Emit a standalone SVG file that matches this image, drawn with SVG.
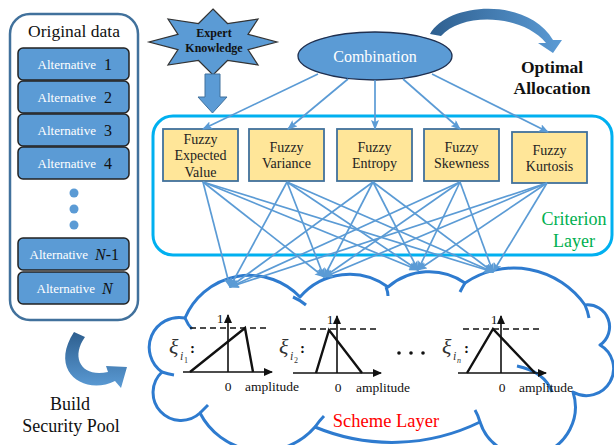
<svg xmlns="http://www.w3.org/2000/svg" width="614" height="445" viewBox="0 0 614 445">
<style>
.serif{font-family:"Liberation Serif","Times New Roman",serif}
.alt{fill:#5B9BD5;stroke:#222;stroke-width:1.5}
.altt{font-family:"Liberation Serif",serif;font-size:13px;fill:#fff}
.num{font-family:"Liberation Serif",serif;font-size:16px;fill:#111}
.fz{fill:#FFE699;stroke:#41719C;stroke-width:1.8}
.fzt{font-family:"Liberation Serif",serif;font-size:14px;fill:#222;text-anchor:middle}
.conn line{stroke:#5B9BD5;stroke-width:1.7;marker-end:url(#ah)}
.ax{stroke:#111;stroke-width:1.6;fill:none}
.tri{stroke:#111;stroke-width:2.4;fill:none;stroke-linejoin:miter}
.dash{stroke:#111;stroke-width:1.4;stroke-dasharray:6,4}
.lab{font-family:"Liberation Serif",serif;font-size:13.5px;fill:#111}
.hook{fill:none;stroke:#2E7BCF;stroke-width:3}
</style>
<defs>
<marker id="ah" markerUnits="userSpaceOnUse" markerWidth="10" markerHeight="8" refX="9" refY="4" orient="auto">
<path d="M0,0 L10,4 L0,8 L2,4 z" fill="#5B9BD5"/>
</marker>
<marker id="axh" markerUnits="userSpaceOnUse" markerWidth="9" markerHeight="8" refX="8" refY="4" orient="auto">
<path d="M0,0 L9,4 L0,8 z" fill="#111"/>
</marker>
<linearGradient id="g1" x1="0" y1="0" x2="1" y2="0">
<stop offset="0" stop-color="#2E5F8F"/>
<stop offset="1" stop-color="#5B9BD5"/>
</linearGradient>
<linearGradient id="g2" x1="0" y1="0" x2="0" y2="1">
<stop offset="0" stop-color="#2E5F8F"/>
<stop offset="1" stop-color="#5B9BD5"/>
</linearGradient>
</defs>

<g id="original-data">
<rect x="10" y="14" width="128" height="306" rx="20" fill="#fff" stroke="#41719C" stroke-width="2.5"/>
<text class="serif" x="74" y="37" font-size="17.5" text-anchor="middle" fill="#111">Original data</text>
<rect class="alt" x="18" y="48" width="111" height="32" rx="5"/>
<text class="altt" x="96" y="69" text-anchor="end">Alternative</text><text class="num" x="104" y="70">1</text>
<rect class="alt" x="18" y="81" width="111" height="32" rx="5"/>
<text class="altt" x="96" y="102" text-anchor="end">Alternative</text><text class="num" x="104" y="103">2</text>
<rect class="alt" x="18" y="114" width="111" height="32" rx="5"/>
<text class="altt" x="96" y="135" text-anchor="end">Alternative</text><text class="num" x="104" y="136">3</text>
<rect class="alt" x="18" y="147" width="111" height="32" rx="5"/>
<text class="altt" x="96" y="168" text-anchor="end">Alternative</text><text class="num" x="104" y="169">4</text>
<circle cx="74" cy="193" r="4.5" fill="#5B9BD5"/>
<circle cx="74" cy="209" r="4.5" fill="#5B9BD5"/>
<circle cx="74" cy="225" r="4.5" fill="#5B9BD5"/>
<rect class="alt" x="18" y="238" width="111" height="32" rx="5"/>
<text class="altt" x="88" y="259" text-anchor="end">Alternative</text><text class="num" x="95" y="260"><tspan font-style="italic">N</tspan>-1</text>
<rect class="alt" x="18" y="272" width="111" height="32" rx="5"/>
<text class="altt" x="95" y="293" text-anchor="end">Alternative</text><text class="num" x="102" y="294" font-style="italic">N</text>
</g>

<g id="expert-knowledge">
<polygon points="213,9 227.5,23.5 258,19 248,34.3 277,42 248,49.7 258,65 227.5,60.5 213,75 198.5,60.5 168,65 178,49.7 149,42 178,34.3 168,19 198.5,23.5" fill="#5B9BD5" stroke="#333" stroke-width="1.2"/>
<text class="serif" x="214" y="37" font-size="12" font-weight="bold" text-anchor="middle" fill="#111">Expert</text>
<text class="serif" x="214" y="52" font-size="12" font-weight="bold" text-anchor="middle" fill="#111">Knowledge</text>
<path d="M205,74 L220,74 L220,97 L227,97 L212.5,113 L198,97 L205,97 Z" fill="#5B9BD5" stroke="#41719C" stroke-width="1"/>
</g>

<g id="combination">
<ellipse cx="375" cy="56" rx="77" ry="24" fill="#5B9BD5" stroke="#1F2F4F" stroke-width="1.3"/>
<text class="serif" x="375" y="62" font-size="16" text-anchor="middle" fill="#fff">Combination</text>
</g>

<g id="optimal-allocation">
<path d="M430,34 C448,2 528,-3 553,40 L562,40 L553,53 L538,43 L546,43 C522,14 462,12 441,36 Z" fill="url(#g1)"/>
<text class="serif" x="552" y="73" font-size="17.5" font-weight="bold" text-anchor="middle" fill="#111">Optimal</text>
<text class="serif" x="552" y="94" font-size="17.5" font-weight="bold" text-anchor="middle" fill="#111">Allocation</text>
</g>

<g id="criterion-layer">
<rect x="153" y="116" width="459" height="139" rx="20" fill="none" stroke="#00B0F0" stroke-width="3"/>
<text class="serif" x="574" y="225" font-size="18" text-anchor="middle" fill="#00B050">Criterion</text>
<text class="serif" x="574" y="247" font-size="18" text-anchor="middle" fill="#00B050">Layer</text>
</g>

<g id="fuzzy-expected-value">
<rect class="fz" x="163" y="129" width="75" height="52"/>
<text class="fzt" x="200.5" y="144">Fuzzy</text>
<text class="fzt" x="200.5" y="160">Expected</text>
<text class="fzt" x="200.5" y="177">Value</text>
</g>
<g id="fuzzy-variance">
<rect class="fz" x="249" y="129" width="75" height="52"/>
<text class="fzt" x="286.5" y="152">Fuzzy</text>
<text class="fzt" x="286.5" y="168">Variance</text>
</g>
<g id="fuzzy-entropy">
<rect class="fz" x="337" y="129" width="75" height="52"/>
<text class="fzt" x="374.5" y="152">Fuzzy</text>
<text class="fzt" x="374.5" y="168">Entropy</text>
</g>
<g id="fuzzy-skewness">
<rect class="fz" x="424" y="129" width="75" height="52"/>
<text class="fzt" x="461.5" y="152">Fuzzy</text>
<text class="fzt" x="461.5" y="168">Skewness</text>
</g>
<g id="fuzzy-kurtosis">
<rect class="fz" x="512" y="132" width="75" height="51"/>
<text class="fzt" x="549.5" y="155">Fuzzy</text>
<text class="fzt" x="549.5" y="171">Kurtosis</text>
</g>

<g id="scheme-layer">
<path d="M185,318 A70,70 0 0 1 300,297 A65,65 0 0 1 388,287 A63,63 0 0 1 465,283 A87,87 0 0 1 585,305 A22,22 0 0 1 600,345 A27,27 0 0 1 573,392 A48,48 0 0 1 480,422 A200,200 0 0 1 315,427 A70,70 0 0 1 200,413 A24,24 0 0 1 162,372 A30,30 0 0 1 185,318 Z" fill="#fff" stroke="#2E7BCF" stroke-width="3" stroke-linejoin="round"/>
<path class="hook" d="M185,318 Q188,325 192,329"/>
<path class="hook" d="M293,297 Q300,300 306,305"/>
<path class="hook" d="M386,287 Q388,292 388,296"/>
<path class="hook" d="M465,283 Q462,288 460,292"/>
<path class="hook" d="M585,305 Q588,312 589,318"/>
<path class="hook" d="M517,366 Q545,372 552,392"/>
<path class="hook" d="M480,422 Q478,415 475,410"/>
<path class="hook" d="M315,427 Q320,420 324,416"/>
<path class="hook" d="M200,413 Q205,408 208,405"/>
<path class="hook" d="M162,372 Q168,374 174,375"/>
<text class="serif" x="386" y="427" font-size="18.5" text-anchor="middle" fill="#FF0000">Scheme Layer</text>

<line class="dash" x1="190" y1="328" x2="268" y2="328"/>
<line class="ax" x1="183" y1="372" x2="272" y2="372" marker-end="url(#axh)"/>
<line class="ax" x1="228" y1="372" x2="228" y2="315" marker-end="url(#axh)"/>
<polyline class="tri" points="190,372 245,328 253,372"/>
<text class="lab" x="220" y="323" text-anchor="middle">1</text>
<text class="lab" x="228" y="391" text-anchor="middle">0</text>
<text class="lab" x="245" y="391">amplitude</text>
<text class="serif" x="169" y="354" font-size="22" font-style="italic" fill="#333">ξ</text>
<text class="serif" x="180" y="360" font-size="12" font-style="italic" fill="#333">i</text>
<text class="serif" x="184" y="363" font-size="8" fill="#333">1</text>
<text class="serif" x="190" y="353" font-size="15" font-weight="bold" fill="#111">:</text>

<line class="dash" x1="300" y1="329" x2="378" y2="329"/>
<line class="ax" x1="293" y1="373" x2="381" y2="373" marker-end="url(#axh)"/>
<line class="ax" x1="337" y1="373" x2="337" y2="316" marker-end="url(#axh)"/>
<polyline class="tri" points="316,373 329,330 362,373"/>
<text class="lab" x="330" y="324" text-anchor="middle">1</text>
<text class="lab" x="338" y="392" text-anchor="middle">0</text>
<text class="lab" x="356" y="392">amplitude</text>
<text class="serif" x="279" y="354" font-size="22" font-style="italic" fill="#333">ξ</text>
<text class="serif" x="290" y="360" font-size="12" font-style="italic" fill="#333">i</text>
<text class="serif" x="294" y="363" font-size="8" fill="#333">2</text>
<text class="serif" x="300" y="353" font-size="15" font-weight="bold" fill="#111">:</text>

<circle cx="399" cy="353" r="1.8" fill="#111"/>
<circle cx="411" cy="353" r="1.8" fill="#111"/>
<circle cx="423" cy="353" r="1.8" fill="#111"/>

<line class="dash" x1="463" y1="329" x2="542" y2="329"/>
<line class="ax" x1="458" y1="373" x2="546" y2="373" marker-end="url(#axh)"/>
<line class="ax" x1="501" y1="373" x2="501" y2="316" marker-end="url(#axh)"/>
<polyline class="tri" points="467,373 493,329 535,373"/>
<text class="lab" x="494" y="324" text-anchor="middle">1</text>
<text class="lab" x="502" y="392" text-anchor="middle">0</text>
<text class="lab" x="519" y="392">amplitude</text>
<text class="serif" x="442" y="354" font-size="22" font-style="italic" fill="#333">ξ</text>
<text class="serif" x="453" y="360" font-size="12" font-style="italic" fill="#333">i</text>
<text class="serif" x="457" y="363" font-size="8" font-style="italic" fill="#333">n</text>
<text class="serif" x="464" y="353" font-size="15" font-weight="bold" fill="#111">:</text>
</g>

<g id="build-security-pool">
<path d="M74,332 L85,337 C70,358 82,378 108,372 L106,366 L127,367 L121,388 L115,381 C85,396 48,372 74,332 Z" fill="url(#g2)"/>
<text class="serif" x="70" y="410" font-size="18" text-anchor="middle" fill="#111">Build</text>
<text class="serif" x="71" y="432" font-size="18" text-anchor="middle" fill="#111">Security Pool</text>
</g>

<g id="connectors" class="conn">
<line x1="318" y1="74" x2="203" y2="129"/>
<line x1="348" y1="79" x2="288" y2="129"/>
<line x1="375" y1="80" x2="375" y2="129"/>
<line x1="403" y1="79" x2="460" y2="129"/>
<line x1="432" y1="74" x2="548" y2="132"/>

<line x1="203" y1="182" x2="230" y2="287"/>
<line x1="203" y1="182" x2="324" y2="277"/>
<line x1="203" y1="182" x2="418" y2="270"/>
<line x1="203" y1="182" x2="493" y2="272"/>
<line x1="287" y1="182" x2="230" y2="287"/>
<line x1="287" y1="182" x2="324" y2="277"/>
<line x1="287" y1="182" x2="418" y2="270"/>
<line x1="287" y1="182" x2="493" y2="272"/>
<line x1="373" y1="182" x2="230" y2="287"/>
<line x1="373" y1="182" x2="324" y2="277"/>
<line x1="373" y1="182" x2="418" y2="270"/>
<line x1="373" y1="182" x2="493" y2="272"/>
<line x1="460" y1="182" x2="230" y2="287"/>
<line x1="460" y1="182" x2="324" y2="277"/>
<line x1="460" y1="182" x2="418" y2="270"/>
<line x1="460" y1="182" x2="493" y2="272"/>
<line x1="547" y1="183" x2="230" y2="287"/>
<line x1="547" y1="183" x2="324" y2="277"/>
<line x1="547" y1="183" x2="418" y2="270"/>
<line x1="547" y1="183" x2="493" y2="272"/>
</g>
</svg>
